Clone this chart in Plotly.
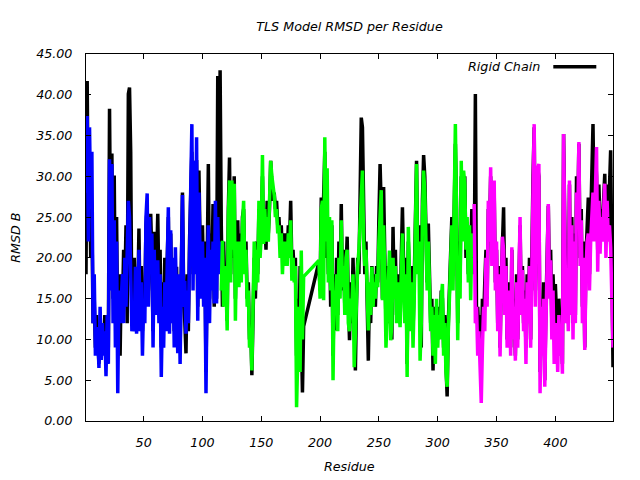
import plotly.graph_objects as go

# Residue numbering (residues 187-198 are absent from the data)
residues = list(range(1, 187)) + list(range(199, 450))

rigid_chain = [
    18, 41.7, 23, 32, 20, 25, 12, 15, 9, 13,
    10, 7, 12, 8.5, 11, 9, 13, 8, 12, 9,
    38.3, 20, 32.8, 15, 30.1, 12, 25, 10, 18, 8,
    18, 14, 21, 16, 24, 12, 40.1, 40.9, 33, 12,
    14, 20, 12, 18, 15, 23.6, 13, 19, 11, 17,
    15, 24, 26, 16, 22, 25.4, 20, 11, 23.2, 14,
    19, 25.4, 16, 21, 9, 17, 12, 20, 14, 22,
    25, 12, 23, 14, 19, 11, 17, 18.9, 10, 16,
    9, 20, 28, 16, 12, 8.3, 18, 11, 22, 26,
    33, 18, 30, 20, 32, 14, 30.7, 22, 17, 24,
    16, 22, 6, 19, 31.5, 15, 23, 18, 26.6, 14,
    22, 15, 42.3, 20, 43, 24, 14, 22, 16, 19,
    12.3, 26, 32.3, 18, 27, 20, 30, 15, 24, 24.6,
    17, 23, 18, 25, 26, 19, 22, 15, 17, 10,
    12, 5.6, 13, 20, 15, 22, 18, 26, 21, 24,
    30, 22, 25, 21, 27, 23, 26, 31.9, 29, 27,
    28, 26, 27, 24, 25, 22, 24, 20, 23, 21,
    23, 20, 24, 22, 27, 19, 21, 18, 20, 8,
    15, 10, 19, 12, 3.5, 11.6,
    19.5, 16, 27.4, 22, 30, 33, 20, 26, 18, 23, 14, 24,
    8, 18, 11.1, 20, 13, 22, 17, 26.6, 16, 21,
    14, 19, 22.6, 15, 9.9, 17, 12, 20, 14, 6.2,
    14.8, 20, 18, 28, 37.2, 36, 24, 18, 22, 15,
    7.4, 16, 12, 19, 15, 18, 14, 19, 17, 25,
    31.5, 26, 15, 28.7, 20, 12,
    14, 19, 12, 17, 10, 23.8, 16, 21, 13, 18, 15, 12, 20, 26.2,
    19, 14, 20, 7, 22, 18, 13, 19, 11, 17,
    25, 31.9, 20, 24, 16, 9, 27, 32.6, 30, 22,
    17, 24.2, 18, 12, 15, 6.2, 14, 9, 13, 10,
    14, 11, 16, 15, 9, 13, 7, 3, 12, 16,
    20, 25, 18, 28, 34, 26, 12, 22, 17, 30,
    23, 26, 30, 20, 24, 18, 22, 20, 26, 24,
    18, 40.1, 12, 14, 10, 13, 8, 15, 12, 17,
    21, 15, 26, 23, 30, 20, 27, 28, 17, 21,
    12, 19, 9, 17, 23, 26.2, 15, 20, 10, 14,
    17, 9, 21, 11, 15, 8, 18, 10, 16, 24,
    14, 19, 12, 16, 9, 18, 13, 20, 10, 24,
    30, 36, 16, 28, 31, 30, 6, 14, 10, 17,
    5, 14, 19, 26.4, 17, 21, 12, 18, 14, 16.8,
    13, 9, 15, 10, 12, 7, 35.2, 22, 14, 20,
    12, 29, 15, 25, 12, 23, 13, 30, 25, 34,
    20, 26, 14, 22, 9, 20, 24, 27.4, 18, 24,
    28, 36.4, 25, 33, 30, 21, 29, 24, 26, 23,
    27, 30.3, 22, 29, 24, 30, 33.2, 20, 6.6,
]

# TLS group 1 (blue): residues 1-115
group1_res = list(range(1, 116))
group1 = [
    28, 37.4, 22, 36, 26, 33, 12, 18, 8, 11.5,
    11, 6.5, 14, 7.5, 12, 8, 11, 5.5, 13, 7,
    32.1, 16, 31.5, 12, 24.6, 9, 22, 3.4, 16, 12,
    15, 18, 12, 20, 14, 22, 27, 25, 17, 11,
    13, 11, 18.9, 10.7, 16, 21, 11, 17, 8, 15,
    12, 25, 27.9, 14, 25, 19, 23, 9, 21, 13,
    17, 19.7, 12, 18, 5.4, 14, 9, 17, 11, 21,
    26.2, 10.7, 23.4, 12, 20, 9, 21.3, 14, 8.3, 18,
    7, 18, 27.7, 14, 17.2, 10.7, 16, 12, 20, 30,
    36.4, 16, 31.9, 18, 34.8, 12.3, 28, 20, 15, 22,
    14, 20, 3.4, 17, 24, 12, 21, 16, 22, 14.4,
    27, 14.4, 25, 18, 22,
]

# TLS group 2 (green): residues 116-186, 199-330
group2_res = list(range(116, 187)) + list(range(199, 331))
group2 = [
    16, 22.1, 14, 19, 17,
    11.1, 25, 29.5, 17, 29.5, 21, 29.1, 12.3, 22, 20,
    16.4, 22, 17, 24, 27, 18, 21, 14, 16, 9,
    11, 6.2, 14.8, 22, 16, 21, 17, 27, 20, 23,
    32.6, 21.7, 26, 22, 25, 22, 27, 31.9, 30, 28.7,
    27.7, 25, 26, 23, 24, 20, 23, 18, 22, 19,
    22, 19, 23, 20, 24.6, 17.2, 20, 17, 19, 1.7,
    8.3, 14, 6, 20.9, 10, 17.7,
    19.7, 15, 26, 27, 14.8, 34.8, 22, 31, 17, 25, 16, 24.6,
    5, 16, 14, 18, 11, 20, 15, 24.6, 16.4, 19,
    13, 20, 21, 12, 11, 15, 14, 18, 6.6, 12,
    14.8, 19, 21, 24, 28, 30.7, 22, 19, 21, 16,
    11.1, 17, 13, 18.9, 14, 17, 15, 18, 16.4, 22,
    25, 28.3, 14.8, 24, 18, 9,
    13, 18, 20.9, 9.9, 12, 20, 15, 19, 12, 17, 13, 11.5, 18, 23,
    17, 12, 18, 5.4, 23.8, 16, 11, 17, 9, 15,
    24, 31.5, 18, 22, 7.4, 12, 25, 30.7, 28, 20,
    16, 22, 17, 11, 14, 8, 13, 7, 15, 9,
    13, 10, 15, 16.8, 8, 12, 6, 4.2, 11, 15,
    19, 24, 16, 27, 36.4, 25, 9.9, 20, 15, 31.9,
    22, 30.7, 29, 21, 25, 17, 24, 14.8, 23, 20,
]

# TLS group 3 (magenta): residues 331-449
group3_res = list(range(331, 450))
group3 = [
    26.6, 12, 14, 8, 11, 6, 2.2, 9, 14, 11,
    20, 14, 27, 22, 31.1, 19, 28, 29.5, 16, 22,
    11, 18, 7.9, 16, 22.6, 21, 13, 19, 9, 12,
    16, 8, 21.3, 10, 14, 7.4, 17, 9, 15, 25,
    13, 18.5, 11, 15, 7, 17, 12, 19, 9, 22,
    28, 36.4, 14, 26, 31.1, 31.5, 3.4, 14, 8, 15,
    4.2, 12, 18, 26.6, 15, 19.7, 10, 16, 7, 12,
    11, 6, 13, 8, 10, 5.8, 35.2, 20, 12, 18,
    11, 29.5, 13, 24, 10, 22, 12, 28, 24, 34.2,
    19, 24.6, 12, 20, 8.7, 18, 22, 23, 16, 22,
    26, 28, 22, 30, 33.6, 18.3, 27, 20.5, 25, 22,
    25, 29.1, 20, 27, 22, 24, 21.3, 13, 9,
]

assert len(residues) == len(rigid_chain), (len(residues), len(rigid_chain))
assert len(group1_res) == len(group1), (len(group1_res), len(group1))
assert len(group2_res) == len(group2), (len(group2_res), len(group2))
assert len(group3_res) == len(group3), (len(group3_res), len(group3))

x_ticks = [50, 100, 150, 200, 250, 300, 350, 400]
y_ticks = [0, 5, 10, 15, 20, 25, 30, 35, 40, 45]

FONT = dict(family="DejaVu Sans", size=12.7, color="black", style="italic")
LW = 3.5

fig = go.Figure()
fig.add_trace(go.Scatter(x=residues, y=rigid_chain, mode="lines", name="Rigid Chain",
                         line=dict(color="black", width=LW)))
fig.add_trace(go.Scatter(x=group1_res, y=group1, mode="lines", showlegend=False,
                         line=dict(color="#0000ff", width=LW)))
fig.add_trace(go.Scatter(x=group2_res, y=group2, mode="lines", showlegend=False,
                         line=dict(color="#00ff00", width=LW)))
fig.add_trace(go.Scatter(x=group3_res, y=group3, mode="lines", showlegend=False,
                         line=dict(color="#ff00ff", width=LW)))

axis_common = dict(showline=True, linecolor="black", linewidth=1, mirror="ticks",
                   ticks="inside", ticklen=5, tickcolor="black", tickwidth=1,
                   showgrid=False, zeroline=False, tickfont=FONT)

fig.update_layout(
    width=640, height=480,
    margin=dict(l=86, r=27, t=54, b=59),
    paper_bgcolor="white", plot_bgcolor="white",
    font=FONT,
    showlegend=False,
    title=dict(text="TLS Model RMSD per Residue", x=0.5, xref="paper",
               y=1 - 27 / 480, yref="container", yanchor="middle", font=FONT),
    xaxis=dict(range=[1, 449], tickvals=x_ticks, ticklabelstandoff=10, **axis_common),
    yaxis=dict(range=[0, 45], tickvals=y_ticks, tickformat=".2f",
               ticklabelstandoff=10, **axis_common),
)

# axis titles
fig.add_annotation(text="Residue", xref="paper", yref="paper", x=0.5, y=-(467 - 421.4) / 367.2,
                   showarrow=False, font=FONT, yanchor="middle")
fig.add_annotation(text="RMSD B", xref="paper", yref="paper", x=(15 - 85.7) / 527, y=0.5,
                   showarrow=False, font=FONT, textangle=-90, xanchor="center")

# gnuplot-style key: text then line sample
fig.add_annotation(text="Rigid Chain", xref="paper", yref="paper", x=(542 - 85.7) / 527,
                   y=(421.4 - 67) / 367.2, showarrow=False, font=FONT,
                   xanchor="right", yanchor="middle")
fig.add_shape(type="line", xref="paper", yref="paper",
              x0=(553 - 85.7) / 527, x1=(596 - 85.7) / 527,
              y0=(421.4 - 67) / 367.2, y1=(421.4 - 67) / 367.2,
              line=dict(color="black", width=LW))

fig.write_html("out.html", config={"displayModeBar": False},
               post_script="document.body.style.margin='0px';document.body.style.overflow='hidden';")
